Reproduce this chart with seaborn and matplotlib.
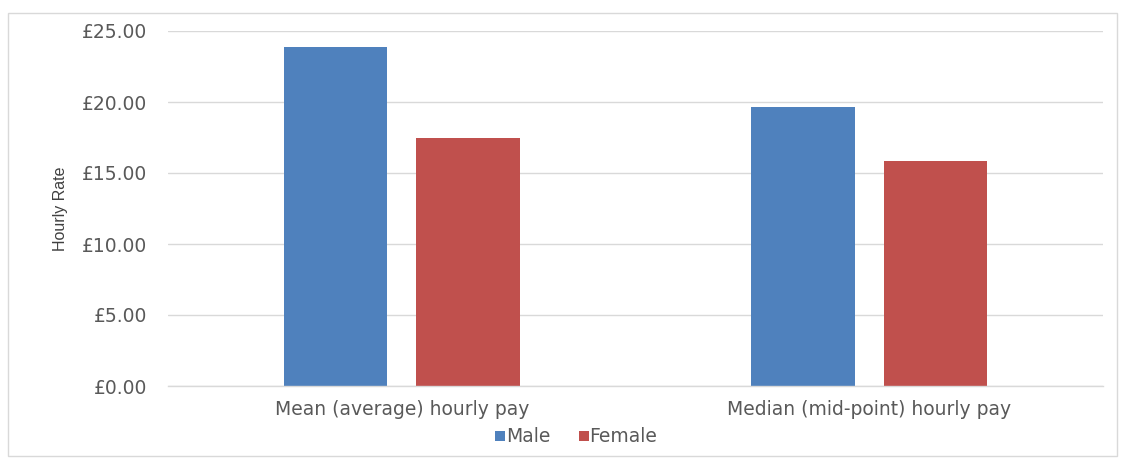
import matplotlib
matplotlib.use("Agg")
import matplotlib.pyplot as plt
import seaborn as sns
import pandas as pd
from matplotlib.patches import Rectangle
from matplotlib.lines import Line2D
from matplotlib.ticker import FuncFormatter

categories = ["Mean (average) hourly pay", "Median (mid-point) hourly pay"]
male_values = [23.87, 19.62]
female_values = [17.48, 15.83]
series_names = ["Male", "Female"]
colors = ["#4F81BD", "#C0504D"]

df = pd.DataFrame({
    "Category": categories * 2,
    "Gender": [series_names[0]] * 2 + [series_names[1]] * 2,
    "Rate": male_values + female_values,
})

sns.set_theme(style="white")
plt.rcParams["font.family"] = ["DejaVu Sans"]

fig = plt.figure(figsize=(11.3, 4.59), dpi=100)
W, H = 1130, 459
ax = fig.add_axes([168 / W, (H - 386) / H, (1103 - 168) / W, (386 - 31) / H])

sns.barplot(data=df, x="Category", y="Rate", hue="Gender", palette=colors,
            saturation=1, width=0.567, gap=0.22, linewidth=0, ax=ax, legend=False)

ax.set_ylim(0, 25)
ax.set_yticks([0, 5, 10, 15, 20, 25])
ax.yaxis.set_major_formatter(FuncFormatter(lambda v, p: f"£{v:.2f}"))
ax.grid(axis="y", color="#D9D9D9", linewidth=1)
ax.set_axisbelow(True)
for s in ["top", "right", "left"]:
    ax.spines[s].set_visible(False)
ax.spines["bottom"].set_color("#D9D9D9")
ax.spines["bottom"].set_linewidth(1)
ax.tick_params(axis="y", length=0, pad=15, labelsize=13.5, labelcolor="#595959")
ax.tick_params(axis="x", length=0, pad=10, labelsize=13.5, labelcolor="#595959")
ax.set_xlabel("")
ax.set_ylabel("Hourly Rate", fontsize=11.5, color="#404040",
              family=["Liberation Sans Narrow", "Liberation Sans", "DejaVu Sans"], labelpad=10)

handles = [Line2D([], [], marker="s", linestyle="none", markersize=7.5,
                  markerfacecolor=c, markeredgewidth=0) for c in colors]
fig.legend(handles, series_names, loc="center", bbox_to_anchor=(575 / W, (H - 437) / H),
           ncol=2, frameon=False, fontsize=13.5, labelcolor="#595959",
           handletextpad=-0.1, columnspacing=1.4, handlelength=0.8)

fig.patches.append(Rectangle((8 / W, 3 / H), (1117 - 8) / W, (446 - 3) / H,
                             transform=fig.transFigure, fill=False,
                             edgecolor="#D9D9D9", linewidth=1))

fig.savefig("out.png", dpi=100, facecolor="white")
